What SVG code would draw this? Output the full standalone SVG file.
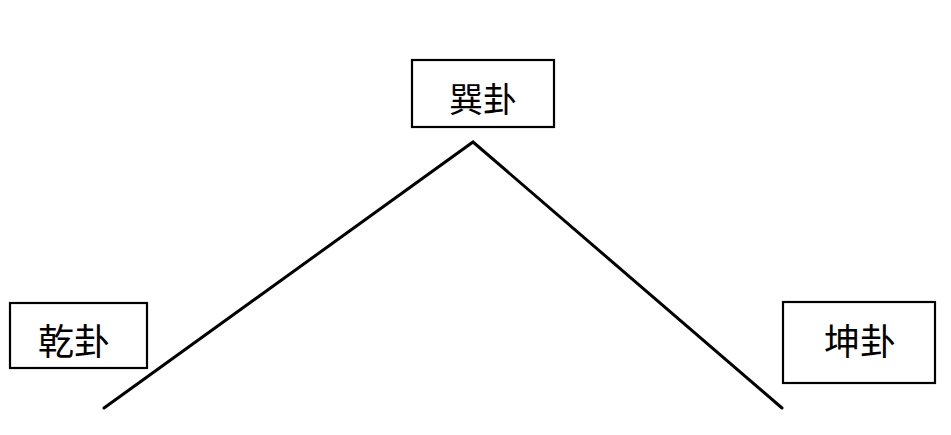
<svg xmlns="http://www.w3.org/2000/svg" width="951" height="435" viewBox="0 0 951 435">
<style>
.box{fill:#fff;stroke:#000;stroke-width:2.2}
.lbl{font-family:"Noto Sans CJK SC","Noto Sans CJK JP",sans-serif;font-size:36px;fill:#000;text-anchor:middle;dominant-baseline:central}
.conn{fill:none;stroke:#000;stroke-width:3;stroke-linecap:round;stroke-linejoin:miter}
</style>
<rect width="951" height="435" fill="#fff"/>
<g id="connectors">
<polyline class="conn" points="104,408 473,142 782,408"/>
</g>
<g id="node-xun">
<rect class="box" x="412" y="60" width="142" height="67"/>
<text class="lbl" x="483" y="97" style="font-size:34px">巽卦</text>
</g>
<g id="node-qian">
<rect class="box" x="10" y="303" width="137" height="65"/>
<text class="lbl" x="74" y="339">乾卦</text>
</g>
<g id="node-kun">
<rect class="box" x="783" y="302" width="152" height="81"/>
<text class="lbl" x="860" y="339">坤卦</text>
</g>
</svg>
